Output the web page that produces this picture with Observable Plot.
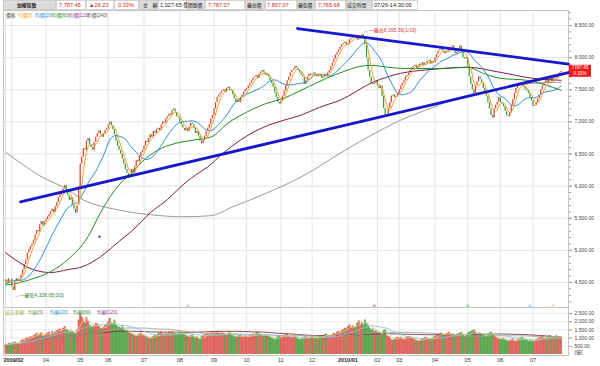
<!DOCTYPE html>
<html><head><meta charset="utf-8">
<script src="https://cdn.jsdelivr.net/npm/d3@7"></script>
<script src="https://cdn.jsdelivr.net/npm/@observablehq/plot@0.6"></script>
<style>
html,body{margin:0;padding:0;background:#fff;}
#wrap{position:relative;width:600px;height:366px;overflow:hidden;}
#price,#vol{position:absolute;left:0;}
#price{top:10px}
#vol{top:307px}
#over{position:absolute;left:0;top:0;pointer-events:none}
svg{display:block}
</style></head><body>
<div id="wrap"><div id="price"></div><div id="vol"></div><svg id="over" width="600" height="366"></svg></div>
<script>
// ================= DATA =================
const monthLabels = ["2009/02","","04","05","06","07","08","09","10","11","12","2010/01","02","03","04","05","06","07"];

// daily closes per month (TAIEX)
const c0902=[4540,4480,4560,4557];
const c0903=[4430,4375,4510,4560,4520,4540,4620,4700,4780,4850,4960,5010,5060,5100,5150,5240,5310,5290,5400,5450,5380,5440];
const c0904=[5480,5520,5560,5600,5640,5590,5680,5750,5820,5860,5900,5960,6010,5900,5850,5780,5820,5700,5640,5580,5700,5990];
const c0905=[6340,6450,6580,6560,6700,6740,6650,6600,6560,6680,6760,6820,6860,6800,6760,6820,6870,6900];
const c0906=[6950,7000,6940,6880,6800,6700,6620,6560,6500,6420,6340,6260,6200,6150,6180,6260,6200,6300,6400,6380,6460,6520,6560];
const c0907=[6620,6700,6680,6740,6800,6760,6850,6820,6880,6900,6860,6950,7000,6980,7050,7080,7120,7100,7180,7200,7150,7080,7060];
const c0908=[7000,6950,6900,6860,6900,6850,6920,6980,6960,6900,6820,6850,6780,6700,6660,6720,6780,6850,6900,6960,7050,7100];
const c0909=[7200,7300,7380,7420,7450,7480,7500,7460,7520,7540,7500,7480,7420,7360,7300,7340,7300,7380,7420,7460,7500];
const c0910=[7520,7560,7600,7640,7680,7700,7720,7680,7740,7780,7800,7760,7720,7740,7700,7640,7600,7540,7450,7380,7300,7280];
const c0911=[7320,7400,7480,7560,7640,7700,7760,7800,7820,7860,7840,7800,7760,7720,7700,7580,7640,7700,7740,7720];
const c0912=[7740,7760,7720,7700,7740,7720,7680,7700,7740,7720,7760,7800,7860,7920,7980,8040,8080,8120,8160,8200,8220,8240,8188];
const c1001=[8207,8280,8300,8320,8340,8300,8270,8290,8330,8356,8300,8200,8000,7800,7700,7600,7580,7600,7640];
const c1002=[7560,7520,7560,7400,7210,7080,7100,7210,7300,7400,7420,7380,7400,7436];
const c1003=[7500,7560,7600,7640,7700,7720,7760,7800,7840,7860,7880,7820,7860,7900,7880,7920,7880,7900,7940,7960,7900,7940,7920];
const c1004=[8000,8050,8100,8120,8140,8100,8060,8080,8100,8140,8160,8180,8120,8060,8080,8140,8180,8100,8000,7980,8000];
const c1005=[7870,7700,7580,7500,7420,7560,7620,7700,7660,7600,7520,7440,7400,7300,7200,7100,7060,7200,7260,7300,7374];
const c1006=[7300,7280,7240,7160,7100,7080,7140,7260,7350,7440,7520,7560,7600,7580,7560,7540,7500,7480,7440,7380,7329];
const c1007=[7240,7250,7300,7360,7420,7500,7560,7600,7640,7600,7660,7680,7620,7700,7720,7680,7740,7761,7787.45];
const closeByMonth=[c0902,c0903,c0904,c0905,c0906,c0907,c0908,c0909,c0910,c0911,c0912,c1001,c1002,c1003,c1004,c1005,c1006,c1007];

// daily turnover (億元) per month
const v0902=[620,580,700,650];
const v0903=[680,720,760,640,700,690,820,900,860,950,1020,980,1100,1050,1150,1200,1300,1180,1250,1320,1100,1150];
const v0904=[1250,1300,1350,1200,1400,1280,1380,1450,1500,1550,1420,1600,1700,1480,1500,1350,1450,1400,1300,1250,1500,2100];
const v0905=[2450,2300,2100,1900,2250,2000,1800,1700,1650,1750,1900,1850,1700,1600,1550,1650,1750,1800];
const v0906=[2000,2200,1900,1850,2100,1800,1700,1650,1600,1750,1500,1450,1400,1350,1300,1250,1200,1150,1100,1180,1250,1300,1200];
const v0907=[1150,1100,1050,1000,950,1050,1100,1200,1150,1250,1300,1350,1250,1200,1300,1250,1350,1300,1400,1350,1300,1250,1300];
const v0908=[1350,1300,1250,1200,1150,1100,1050,1150,1200,1100,1000,1050,950,900,1100,1150,1200,1250,1300,1250,1300,1350];
const v0909=[1300,1350,1400,1300,1250,1350,1300,1250,1200,1300,1350,1250,1150,1100,1050,1100,1150,1200,1100,1050,1150];
const v0910=[1100,1050,1150,1200,1250,1200,1300,1350,1250,1200,1150,1100,1200,1150,1100,1050,1000,950,900,1000,1100,1150];
const v0911=[1050,1100,1150,1200,1250,1100,1050,1000,1150,1100,1050,950,900,950,1000,1050,1100,1000,950,1050];
const v0912=[1100,1050,1000,950,1050,1100,1150,1100,1200,1250,1100,1050,1150,1200,1300,1250,1350,1400,1300,1450,1500,1600,1550];
const v1001=[1700,1800,1650,1750,1600,1700,1900,2050,1850,1950,1800,2100,1900,1750,1600,1500,1550,1400,1450];
const v1002=[1350,1300,1250,1200,1450,1500,1150,1100,1050,900,850,950,1000,1050];
const v1003=[1000,1050,950,900,1000,1050,1100,1050,1000,950,900,850,800,850,900,950,1000,1050,1000,950,900,1000,1050];
const v1004=[1100,1150,1200,1250,1300,1200,1150,1250,1300,1350,1200,1250,1150,1100,1200,1250,1300,1350,1200,1100,1150];
const v1005=[1300,1350,1400,1450,1500,1350,1250,1200,1300,1250,1200,1150,1100,1250,1300,1350,1200,1150,1050,1000,950];
const v1006=[900,950,1000,900,850,800,850,900,950,850,800,900,950,1000,1050,950,900,850,800,900,850];
const v1007=[800,850,900,950,1000,1050,1100,1000,950,1050,1100,1150,1050,1000,1100,1150,1050,1100,1027.65];
const volByMonth=[v0902,v0903,v0904,v0905,v0906,v0907,v0908,v0909,v0910,v0911,v0912,v1001,v1002,v1003,v1004,v1005,v1006,v1007];

// closes before the first shown day (used only for the 5/20-day averages)
const priorCloses=[4400,4350,4300,4250,4320,4400,4450,4520,4600,4640,4580,4560,4600,4620,4580,4500,4480,4520,4510];

// long moving averages (trading-day index, value)
const ma60Idx=[0,3,16,29,40,53,61,69,76,80,87,98,110,121,132,143,155,168,179,190,211,234,254,279,297,307,318,335,357];
const ma60Val=[4460,4469,4546,4670,4856,5213,5585,5895,6097,6174,6360,6562,6670,6717,6764,6981,7151,7290,7368,7492,7725,7880,7833,7830,7850,7756,7678,7647,7492];
const ma120Idx=[0,18,29,40,50,61,72,82,93,104,114,125,130,140,151,166,179,190,202,215,236,254,275,297,318,339,357];
const ma120Val=[4965,4700,4655,4700,4750,4900,5120,5320,5585,5790,6020,6220,6300,6516,6717,6918,7027,7105,7229,7337,7616,7756,7818,7850,7771,7678,7647];
const ma240Idx=[0,27,37,50,72,93,114,132,146,168,190,198,211,233,254,275,290,297,318,339,357];
const ma240Val=[6530,6097,5988,5786,5632,5555,5523,5540,5678,5895,6143,6252,6453,6764,7027,7229,7368,7415,7523,7600,7616];

// hand-drawn trend lines (index, price)
const upperTrendIdx=[187.7,361.8], upperTrendVal=[8453,7900];
const lowerTrendIdx=[9.6,361.8],  lowerTrendVal=[5756,7768];
const strayMarkIdx=[60.4], strayMarkVal=[5213];

const highIdx=229, highVal=8395.39, highText="←—最高8,395.39(1/19)";
const lowIdx=5,   lowVal=4328.05,  lowText="←—最低4,328.05(3/3)";

const maPeriods=[5,20,60,120,240];
const priceTicks=[4500,5000,5500,6000,6500,7000,7500,8000,8500];
const volTicks=[500,1000,1500,2000,2500];

const headerTexts=["加權指數","7,787.45","▲26.23","0.33%","金　額","1,027.65 億","開盤價","7,787.07","最高價","7,807.07","最低價","7,765.68","成交時間","07/26-14:30:00"];
const priceLegend=["價格","均價[5]","均價[20]","均價[60]","均價[120]","均價[240]"];
const volLegend=["成交金額","均額[5]","均額[20]","均額[60]","均額[120]"];
const lastLabel=["7787.45","0.33%"];

// ================= STYLE / DERIVED =================
const FONT='"Liberation Sans","Noto Sans CJK TC",sans-serif';
const UP="#e23a32", DOWN="#2f9a3a";
const VUP="#dc4a44", VDOWN="#3f9a36";
const C5="#f5a21f", C20="#2b8ed6", C60="#1e8c24", C120="#7a1d48", C240="#8d8d8d", TREND="#1717cc";
const maColors=[C5,C20,C60,C120,C240];

const closes=closeByMonth.flat();
const vols=volByMonth.flat();
const N=closes.length;
const monthStart=[]; {let a=0; for(const m of closeByMonth){monthStart.push(a); a+=m.length;}}
const allC=priorCloses.concat(closes), P=priorCloses.length;
const avg=(arr,end,k)=>d3.mean(arr.slice(Math.max(0,end-k+1),end+1));
const days=closes.map((c,i)=>({
  i, open: allC[i+P-1], close:c, vol:vols[i],
  ma5:avg(allC,i+P,5), ma20:avg(allC,i+P,20),
  v5:avg(vols,i,5), v20:avg(vols,i,20), v60:avg(vols,i,60), v120:avg(vols,i,120)
}));
days.forEach(d=>{ const up=d.close>=d.open; d.col=up?UP:DOWN; d.vcol=up?VUP:VDOWN; });
const toPts=(I,V)=>I.map((i,k)=>({i,v:V[k]}));
const ma60=toPts(ma60Idx,ma60Val), ma120=toPts(ma120Idx,ma120Val), ma240=toPts(ma240Idx,ma240Val);
const upperTrend=toPts(upperTrendIdx,upperTrendVal), lowerTrend=toPts(lowerTrendIdx,lowerTrendVal);
const stray=toPts(strayMarkIdx,strayMarkVal);
const dedMarks=maPeriods.map((p,k)=>({i:N-1-p, c:maColors[k]}));
const minorTicks=d3.range(4200,8701,100);

const xDomain=[-1.29,361.8], xRange=[3,568];

// ================= PRICE PANEL =================
const pricePlot=Plot.plot({
  width:600,height:297,marginLeft:3,marginRight:32,marginTop:0,marginBottom:0,
  x:{domain:xDomain,range:xRange,axis:null},
  y:{domain:[4110.9,8733.5],range:[297,0]},
  color:{type:"identity"},
  style:{fontFamily:FONT,color:"#444",background:"transparent",overflow:"visible"},
  marks:[
    Plot.ruleY(priceTicks,{stroke:"#e3e3e3"}),
    Plot.ruleX(monthStart,{stroke:"#e3e3e3"}),
    Plot.frame({stroke:"#c4c4c4"}),
    Plot.ruleX(days,{x:"i",y1:"open",y2:"close",stroke:"col",strokeWidth:1.2}),
    Plot.line(ma240,{x:"i",y:"v",stroke:C240,strokeWidth:0.9,curve:"monotone-x"}),
    Plot.line(ma120,{x:"i",y:"v",stroke:C120,strokeWidth:1,curve:"monotone-x"}),
    Plot.line(ma60,{x:"i",y:"v",stroke:C60,strokeWidth:1,curve:"monotone-x"}),
    Plot.line(days,{x:"i",y:"ma20",stroke:C20,strokeWidth:1}),
    Plot.line(days,{x:"i",y:"ma5",stroke:C5,strokeWidth:1}),
    Plot.line(upperTrend,{x:"i",y:"v",stroke:TREND,strokeWidth:2.8}),
    Plot.line(lowerTrend,{x:"i",y:"v",stroke:TREND,strokeWidth:2.8}),
    Plot.dot(stray,{x:"i",y:"v",r:1.1,fill:TREND}),
    Plot.text([0],{x:()=>highIdx,y:()=>highVal,text:()=>highText,textAnchor:"start",dx:2,dy:-2,fill:"#d93a3a",fontSize:5}),
    Plot.text([0],{x:()=>lowIdx,y:()=>lowVal,text:()=>lowText,textAnchor:"start",dx:1,dy:2,fill:"#2e8b2e",fontSize:5}),
    Plot.text(dedMarks,{x:"i",frameAnchor:"bottom",text:()=>"^",fill:"c",fontSize:7,dy:1}),
    Plot.axisY({anchor:"right",ticks:minorTicks,tickSize:2,tickFormat:()=>"",stroke:"#999"}),
    Plot.axisY({anchor:"right",ticks:priceTicks,tickSize:3,tickPadding:3,tickFormat:d3.format(",.2f"),fontSize:5,stroke:"#999"})
  ]
});
document.getElementById("price").append(pricePlot);

// ================= VOLUME PANEL =================
const monthTicks=monthStart.map((i,k)=>({i,label:monthLabels[k]})).filter(d=>d.label);
const volPlot=Plot.plot({
  width:600,height:59,marginLeft:3,marginRight:32,marginTop:0,marginBottom:11,
  x:{domain:xDomain,range:xRange,axis:null},
  y:{domain:[0,2500],range:[47,6]},
  color:{type:"identity"},
  style:{fontFamily:FONT,color:"#444",background:"transparent",overflow:"visible"},
  marks:[
    Plot.ruleY(volTicks,{stroke:"#ececec"}),
    Plot.ruleX(monthStart,{stroke:"#e6e6e6"}),
    Plot.frame({stroke:"#c4c4c4"}),
    Plot.ruleX(days,{x:"i",y1:0,y2:"vol",stroke:"vcol",strokeWidth:1.9,strokeOpacity:0.82}),
    Plot.line(days,{x:"i",y:"v120",stroke:"#7a2a4a",strokeWidth:0.9}),
    Plot.line(days,{x:"i",y:"v60",stroke:"#9aa88a",strokeWidth:0.9}),
    Plot.line(days,{x:"i",y:"v20",stroke:"#8cc4e6",strokeWidth:0.9}),
    Plot.line(days,{x:"i",y:"v5",stroke:"#cfd67a",strokeWidth:0.9}),
    Plot.axisY({anchor:"right",ticks:volTicks,tickSize:3,tickPadding:3,tickFormat:d3.format(",.2f"),fontSize:5,stroke:"#999"}),
    Plot.text(["[億]"],{frameAnchor:"bottom-right",dx:6,dy:-2,textAnchor:"start",fontSize:5,fill:"#333"}),
    Plot.text(monthTicks.filter((d,k)=>k===0),{x:"i",text:"label",frameAnchor:"bottom",dy:6,dx:-2,textAnchor:"start",fontSize:5.5,fontWeight:"bold",fill:"#222"}),
    Plot.text(monthTicks.filter((d,k)=>k>0&&d.label.includes("/")),{x:"i",text:"label",frameAnchor:"bottom",dy:6,fontSize:5.5,fontWeight:"bold",fill:"#222"}),
    Plot.text(monthTicks.filter(d=>!d.label.includes("/")),{x:"i",text:"label",frameAnchor:"bottom",dy:6,fontSize:5.5,fill:"#333"})
  ]
});
document.getElementById("vol").append(volPlot);

// ================= OVERLAY: header, legends, last-price tag =================
const over=d3.select("#over");
function txt(x,y,s,o={}){
  return over.append("text").attr("x",x).attr("y",y).attr("dominant-baseline","central")
    .attr("font-size",o.size||5).attr("fill",o.fill||"#333").attr("font-weight",o.weight||"normal")
    .attr("font-family",FONT).attr("text-anchor",o.anchor||"start").text(s);
}
// header cells: [x0, x1, textX, kind]
const hdrCells=[[3,56,17,"title"],[56,86,59,"red"],[86,114,89,"red"],[114,139,118,"red"],[139,158,143,"lab"],[158,187,160,"val"],
  [187,205,188,"lab"],[205,245,208,"red"],[245,265,247,"lab"],[265,297,267,"red"],[297,315,298,"lab"],[315,346,318,"red"],[346,372,347,"lab"],[372,418,374,"val"]];
over.append("rect").attr("x",0).attr("y",0).attr("width",600).attr("height",10).attr("fill","#ffffff");
hdrCells.forEach(([x0,x1,tx,kind],k)=>{
  over.append("rect").attr("x",x0+0.5).attr("y",0.5).attr("width",x1-x0-1).attr("height",9)
    .attr("fill",kind==="lab"||kind==="title"?"#dcdcdc":"#fff").attr("stroke","#b8b8b8").attr("stroke-width",0.6);
  const isNum=kind==="red"||kind==="val";
  txt(tx,5.2,headerTexts[k],{size:isNum?5.6:4.8,fill:kind==="red"?"#d42020":"#222",weight:kind==="title"?"bold":"normal"});
});
// price legend
const plX=[6,18,35,52,69,87], plC=["#333",C5,C20,C60,"#8a3a8a","#555"];
priceLegend.forEach((s,k)=>txt(plX[k],15.8,s,{size:4.7,fill:plC[k]}));
// volume legend
const vlX=[5,28,50,73,97], vlC=["#8fb030","#7a9a5a","#3f8fc8","#3a8a3a","#8a4a8a"];
volLegend.forEach((s,k)=>txt(vlX[k],312,s,{size:4.8,fill:vlC[k]}));
// last price tag, placed with the plot's own y scale
const yLast=pricePlot.scale("y").apply(closes[N-1])+10;
over.append("rect").attr("x",569).attr("y",yLast-6).attr("width",22).attr("height",12).attr("fill","#f01818");
txt(580,yLast-2.8,lastLabel[0],{size:4.6,fill:"#fff",anchor:"middle"});
txt(580,yLast+3.2,lastLabel[1],{size:4.6,fill:"#fff",anchor:"middle"});
</script></body></html>
